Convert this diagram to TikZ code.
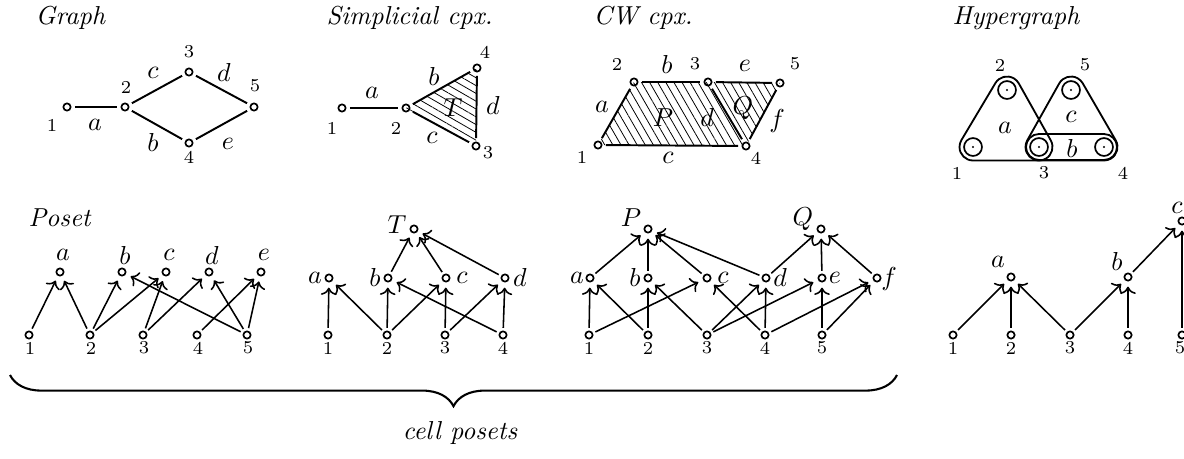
\documentclass[tikz,border=0pt]{standalone}
\usetikzlibrary{calc,patterns.meta,decorations.pathreplacing,arrows.meta}
\begin{document}
\begin{tikzpicture}[x=0.385pt,y=-0.385pt,
  v/.style={circle,draw,line width=0.65pt,inner sep=0pt,minimum size=2.8pt},
  num/.style={font=\fontsize{7}{8}\selectfont,inner sep=0pt},
  lab/.style={inner sep=0pt},
  ttl/.style={font=\itshape,anchor=base west,inner sep=0pt},
  edg/.style={line width=0.75pt,shorten <=1.3pt,shorten >=1.3pt},
  arr/.style={-{To[length=2.8pt,width=6pt]},line width=0.6pt,shorten <=1.0pt,shorten >=2.0pt},
  hv/.style={circle,draw,line width=0.65pt,inner sep=0pt,minimum size=6.9pt},
  hyp/.style={line width=0.7pt},
  hatchA/.style={pattern={Lines[angle=-30,distance=2.6pt,line width=0.3pt]}},
  hatchB/.style={pattern={Lines[angle=-60,distance=2.7pt,line width=0.3pt]}}]
\useasboundingbox (0,0) rectangle (1184,458);

% ---------- titles ----------
\node[ttl] (tG) at (35,24) {Graph};
\node[ttl] (tS) at (326,24) {Simplicial cpx.};
\node[ttl] (tC) at (593,24) {CW cpx.};
\node[ttl] (tH) at (952,24) {Hypergraph};
\node[ttl] (tP) at (28,226) {Poset};

% ---------- Graph ----------
\node[v] (g1) at (67,107) {};
\node[v] (g2) at (125,107) {};
\node[v] (g3) at (189,72) {};
\node[v] (g4) at (189,143) {};
\node[v] (g5) at (254,107) {};
\draw[edg] (g1) -- (g2);
\draw[edg] (g2) -- (g3);
\draw[edg] (g3) -- (g5);
\draw[edg] (g2) -- (g4);
\draw[edg] (g4) -- (g5);
\node[num] (g1l) at (52,125) {1};
\node[num] (g2l) at (126,87) {2};
\node[num] (g3l) at (189,52) {3};
\node[num] (g4l) at (189,157) {4};
\node[num] (g5l) at (255,86) {5};
\node[lab] (gea) at (95,125) {$a$};
\node[lab] (gec) at (153,73) {$c$};
\node[lab] (ged) at (224,72) {$d$};
\node[lab] (geb) at (153,142) {$b$};
\node[lab] (gee) at (228,144) {$e$};

% ---------- Simplicial complex ----------
\coordinate (s2c) at (406,108);
\coordinate (s3c) at (476,146);
\coordinate (s4c) at (477,68);
\fill[hatchA] (s2c) -- (s3c) -- (s4c) -- cycle;
\node[v] (s1) at (342,108) {};
\node[v] (s2) at (s2c) {};
\node[v] (s3) at (s3c) {};
\node[v] (s4) at (s4c) {};
\draw[edg] (s1) -- (s2);
\draw[edg] (s2) -- (s4);
\draw[edg] (s2) -- (s3);
\draw[edg] (s4) -- (s3);
\node[num] (s1l) at (332,128) {1};
\node[num] (s2l) at (396,128) {2};
\node[num] (s4l) at (485,52) {4};
\node[num] (s3l) at (488,153) {3};
\node[lab] (sea) at (372,93) {$a$};
\node[lab] (seb) at (434,76) {$b$};
\node[lab] (seT) at (453,108) {$T$};
\node[lab] (sed) at (493,105) {$d$};
\node[lab] (sec) at (432,138) {$c$};

% ---------- CW complex ----------
\coordinate (w1c) at (598,145);
\coordinate (w2c) at (634,82);
\coordinate (w3c) at (708,82);
\coordinate (w5c) at (780,83);
\coordinate (w4c) at (746,146);
\fill[hatchB] (w1c) -- (w2c) -- (w3c) -- (w4c) -- cycle;
\fill[hatchB] (w3c) -- (w5c) -- (w4c) -- cycle;
\node[v] (w1) at (w1c) {};
\node[v] (w2) at (w2c) {};
\node[v] (w3) at (w3c) {};
\node[v] (w4) at (w4c) {};
\node[v] (w5) at (w5c) {};
\draw[edg] (w1) -- (w2);
\draw[edg] (w2) -- (w3);
\draw[edg] (w1) -- (w4);
\draw[edg] (w3) -- (w4);
\draw[edg] (w3) -- (w5);
\draw[edg] (w5) -- (w4);
\node[num] (w2l) at (617,64) {2};
\node[num] (w3l) at (695,64) {3};
\node[num] (w5l) at (795,64) {5};
\node[num] (w1l) at (582,157) {1};
\node[num] (w4l) at (756,158) {4};
\node[lab] (web) at (667,64) {$b$};
\node[lab] (wee) at (745,66) {$e$};
\node[lab] (wea) at (602,107) {$a$};
\node[lab] (weP) at (663,118) {$P$};
\node[lab] (wed) at (707,117) {$d$};
\node[lab] (weQ) at (743,108) {$Q$};
\node[lab] (wef) at (777,121) {$f$};
\node[lab] (wec) at (668,158) {$c$};

% ---------- Hypergraph ----------
\node[hv] (h1) at (973,147) {};
\node[hv] (h2) at (1007,90) {};
\node[hv] (h3) at (1039,147) {};
\node[hv] (h4) at (1104,147) {};
\node[hv] (h5) at (1071,90) {};
\foreach \h in {h1,h2,h3,h4,h5} \fill (\h) circle[radius=1.1];
\draw[hyp] ($(h1)+(90:13.5)$) arc[start angle=90,end angle=210.8,radius=13.5]
  -- ($(h2)+(210.8:13.5)$) arc[start angle=210.8,end angle=330.7,radius=13.5]
  -- ($(h3)+(330.7:13.5)$) arc[start angle=330.7,end angle=450,radius=13.5] -- cycle;
\draw[hyp] ($(h3)+(90:13.5)$) arc[start angle=90,end angle=209.3,radius=13.5]
  -- ($(h5)+(209.3:13.5)$) arc[start angle=209.3,end angle=329.9,radius=13.5]
  -- ($(h4)+(329.9:13.5)$) arc[start angle=329.9,end angle=450,radius=13.5] -- cycle;
\draw[hyp] ($(h3)+(90:13)$) arc[start angle=90,end angle=270,radius=13]
  -- ($(h4)+(270:13)$) arc[start angle=270,end angle=450,radius=13] -- cycle;
\node[num] (h1l) at (957,173) {1};
\node[num] (h2l) at (1000,65) {2};
\node[num] (h3l) at (1044,173) {3};
\node[num] (h4l) at (1123,173) {4};
\node[num] (h5l) at (1085,65) {5};
\node[lab] (hea) at (1005,128) {$a$};
\node[lab] (hec) at (1071,117) {$c$};
\node[lab] (heb) at (1072,148) {$b$};

% ---------- Graph poset ----------
\foreach \n/\x in {1/29,2/90,3/143,4/197,5/247}{
  \node[v] (gp\n) at (\x,335) {};
  \node[num] (gp\n l) at (\x+1,348) {\n};
}
\foreach \n/\x in {a/60,b/122,c/166,d/209,e/261}{
  \node[v] (gp\n) at (\x,272) {};
  \node[lab] (gp\n l) at (\x+3,255) {$\n$};
}
\foreach \s/\t in {1/a,2/a,2/b,2/c,3/c,3/d,4/e,5/b,5/d,5/e}
  \draw[arr] (gp\s) -- (gp\t);

% ---------- Simplicial poset ----------
\foreach \n/\x in {1/328,2/387,3/445,4/503}{
  \node[v] (sp\n) at (\x,335) {};
  \node[num] (sp\n l) at (\x,348) {\n};
}
\node[v] (spa) at (329,278) {};
\node[v] (spb) at (388,278) {};
\node[v] (spc) at (446,278) {};
\node[v] (spd) at (505,278) {};
\node[v] (spT) at (414,229) {};
\node[lab] (spal) at (315,278) {$a$};
\node[lab] (spbl) at (375,277) {$b$};
\node[lab] (spcl) at (462,278) {$c$};
\node[lab] (spdl) at (520,277) {$d$};
\node[lab] (spTl) at (397,225) {$T$};
\foreach \s/\t in {1/a,2/a,2/b,2/c,3/c,3/d,4/d,4/b,b/T,c/T,d/T}
  \draw[arr] (sp\s) -- (sp\t);

% ---------- CW poset ----------
\foreach \n/\x in {1/589,2/648,3/707,4/765,5/822}{
  \node[v] (cp\n) at (\x,335) {};
  \node[num] (cp\n l) at (\x,348) {\n};
}
\foreach \n/\x in {a/590,b/648,c/707,d/766,e/822,f/877}{
  \node[v] (cp\n) at (\x,278) {};
}
\node[v] (cpP) at (648,229) {};
\node[v] (cpQ) at (821,229) {};
\node[lab] (cpal) at (577,278) {$a$};
\node[lab] (cpbl) at (635,277) {$b$};
\node[lab] (cpcl) at (723,278) {$c$};
\node[lab] (cpdl) at (780,277) {$d$};
\node[lab] (cpel) at (835,278) {$e$};
\node[lab] (cpfl) at (889,279) {$f$};
\node[lab] (cpPl) at (631,218) {$P$};
\node[lab] (cpQl) at (803,219) {$Q$};
\foreach \s/\t in {1/a,1/c,2/a,2/b,3/b,3/d,3/e,4/c,4/d,4/f,5/e,5/f,a/P,b/P,c/P,d/P,d/Q,e/Q,f/Q}
  \draw[arr] (cp\s) -- (cp\t);

% ---------- Hypergraph poset ----------
\foreach \n/\x in {1/953,2/1011,3/1070,4/1128,5/1182}{
  \node[v] (hp\n) at (\x,335) {};
}
\foreach \n/\x in {1/953,2/1011,3/1070,4/1128,5/1180}{
  \node[num] (hp\n l) at (\x,348) {\n};
}
\node[v] (hpa) at (1011,277) {};
\node[v] (hpb) at (1128,277) {};
\node[v] (hpc) at (1182,221) {};
\node[lab] (hpal) at (998,262) {$a$};
\node[lab] (hpbl) at (1117,261) {$b$};
\node[lab] (hpcl) at (1177,208) {$c$};
\foreach \s/\t in {1/a,2/a,3/a,3/b,4/b,5/c,b/c}
  \draw[arr] (hp\s) -- (hp\t);

% ---------- brace ----------
\coordinate (br1) at (10,375);
\coordinate (br2) at (897,375);
\draw[decorate,decoration={brace,mirror,amplitude=12pt},line width=0.8pt] (br1) -- (br2);
\node[font=\itshape,inner sep=0pt] (cp) at (460,433) {cell posets};
\end{tikzpicture}
\end{document}
